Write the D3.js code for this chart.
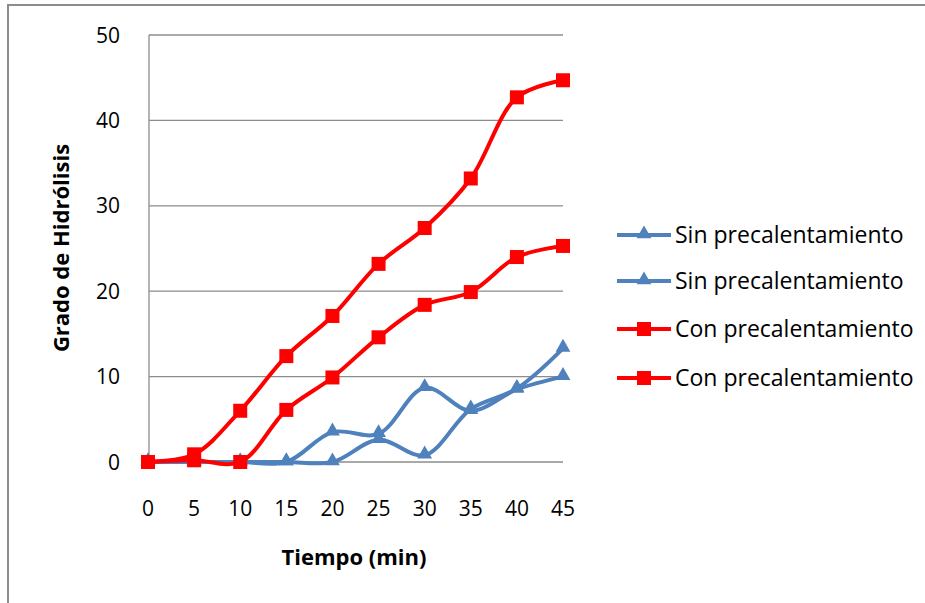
<!DOCTYPE html>
<html>
<head>
<meta charset="utf-8">
<script src="https://cdn.jsdelivr.net/npm/d3@7"></script>
<style>
  body { margin: 0; background: #fff; }
  text { font-family: "Open Sans", Lato, sans-serif; fill: #000; }
</style>
</head>
<body>
<div id="chart"></div>
<script>
// data
var tiempo = [0, 5, 10, 15, 20, 25, 30, 35, 40, 45];
var sin1 = [0, 0, 0, 0, 3.5, 3.3, 8.7, 6.0, 8.5, 10.0];
var sin2 = [0, 0, 0, 0, 0, 2.6, 0.8, 6.2, 8.6, 13.3];
var con1 = [0, 0.9, 6.0, 12.4, 17.1, 23.2, 27.4, 33.2, 42.7, 44.7];
var con2 = [0, 0.2, 0, 6.1, 9.9, 14.6, 18.4, 19.9, 24.0, 25.3];
var yTicks = [0, 10, 20, 30, 40, 50];
var seriesNames = ["Sin precalentamiento", "Sin precalentamiento", "Con precalentamiento", "Con precalentamiento"];

var blue = "#4f81bd", red = "#ff0000";
var series = [
  {name: seriesNames[0], values: sin1, color: blue, marker: "tri"},
  {name: seriesNames[1], values: sin2, color: blue, marker: "tri"},
  {name: seriesNames[2], values: con1, color: red, marker: "sq"},
  {name: seriesNames[3], values: con2, color: red, marker: "sq"}
];

var W = 925, H = 603;
var svg = d3.select("#chart").append("svg")
  .attr("width", W).attr("height", H);

// outer chart frame
svg.append("rect")
  .attr("x", 8).attr("y", 5)
  .attr("width", W).attr("height", H)
  .attr("fill", "none").attr("stroke", "#8c8c8c").attr("stroke-width", 2);

var margin = {left: 149, top: 35, right: 563, bottom: 462};

var x = d3.scaleLinear().domain([0, 45]).range([margin.left - 1, margin.right]);
var y = d3.scaleLinear().domain([0, 50]).range([margin.bottom, margin.top]);

// gridlines
svg.append("g")
  .selectAll("line")
  .data(yTicks)
  .enter().append("line")
    .attr("x1", margin.left).attr("x2", margin.right)
    .attr("y1", function(d) { return y(d); })
    .attr("y2", function(d) { return y(d); })
    .attr("stroke", "#8c8c8c").attr("stroke-width", 1.3);

// y axis line
svg.append("line")
  .attr("x1", margin.left).attr("x2", margin.left)
  .attr("y1", margin.top).attr("y2", margin.bottom)
  .attr("stroke", "#8c8c8c").attr("stroke-width", 1.3);

// y tick labels
svg.append("g")
  .selectAll("text")
  .data(yTicks)
  .enter().append("text")
    .attr("x", 120)
    .attr("y", function(d) { return y(d); })
    .attr("dy", "0.36em")
    .attr("text-anchor", "end")
    .style("font-size", "21px")
    .text(function(d) { return d; });

// x tick labels
svg.append("g")
  .selectAll("text")
  .data(tiempo)
  .enter().append("text")
    .attr("x", function(d) { return x(d); })
    .attr("y", 508)
    .attr("dy", "0.36em")
    .attr("text-anchor", "middle")
    .style("font-size", "21px")
    .text(function(d) { return d; });

// axis titles
svg.append("text")
  .attr("x", 354).attr("y", 557)
  .attr("dy", "0.36em")
  .attr("text-anchor", "middle")
  .style("font-size", "22px").style("font-weight", "bold")
  .text("Tiempo (min)");

svg.append("text")
  .attr("transform", "translate(61,248) rotate(-90)")
  .attr("dy", "0.36em")
  .attr("text-anchor", "middle")
  .style("font-size", "22px").style("font-weight", "bold")
  .text("Grado de Hidrólisis");

var line = d3.line()
  .x(function(d, i) { return x(tiempo[i]); })
  .y(function(d) { return y(d); })
  .curve(d3.curveCatmullRom.alpha(0.5));

var triangle = d3.symbol().type(d3.symbolTriangle).size(95);

function drawMarker(g, type, color) {
  if (type === "sq") {
    g.append("rect")
      .attr("x", -7).attr("y", -7)
      .attr("width", 14).attr("height", 14)
      .attr("fill", color);
  } else {
    g.append("path")
      .attr("d", triangle)
      .attr("transform", "translate(0,-1)")
      .attr("fill", color);
  }
}

series.forEach(function(s) {
  svg.append("path")
    .datum(s.values)
    .attr("d", line)
    .attr("fill", "none")
    .attr("stroke", s.color)
    .attr("stroke-width", 4)
    .attr("stroke-linejoin", "round");

  svg.append("g")
    .selectAll("g")
    .data(s.values)
    .enter().append("g")
      .attr("transform", function(d, i) { return "translate(" + x(tiempo[i]) + "," + y(d) + ")"; })
      .each(function() { drawMarker(d3.select(this), s.marker, s.color); });
});

// legend
var legendY = [235, 281, 329, 378];
var legend = svg.append("g")
  .selectAll("g")
  .data(series)
  .enter().append("g")
    .attr("transform", function(d, i) { return "translate(0," + legendY[i] + ")"; });

legend.append("line")
  .attr("x1", 617).attr("x2", 671)
  .attr("stroke", function(d) { return d.color; })
  .attr("stroke-width", 4);

legend.append("g")
  .attr("transform", "translate(644,0)")
  .each(function(d) { drawMarker(d3.select(this), d.marker, d.color); });

legend.append("text")
  .attr("x", 675)
  .attr("dy", "0.36em")
  .style("font-size", "23px")
  .text(function(d) { return d.name; });
</script>
</body>
</html>
